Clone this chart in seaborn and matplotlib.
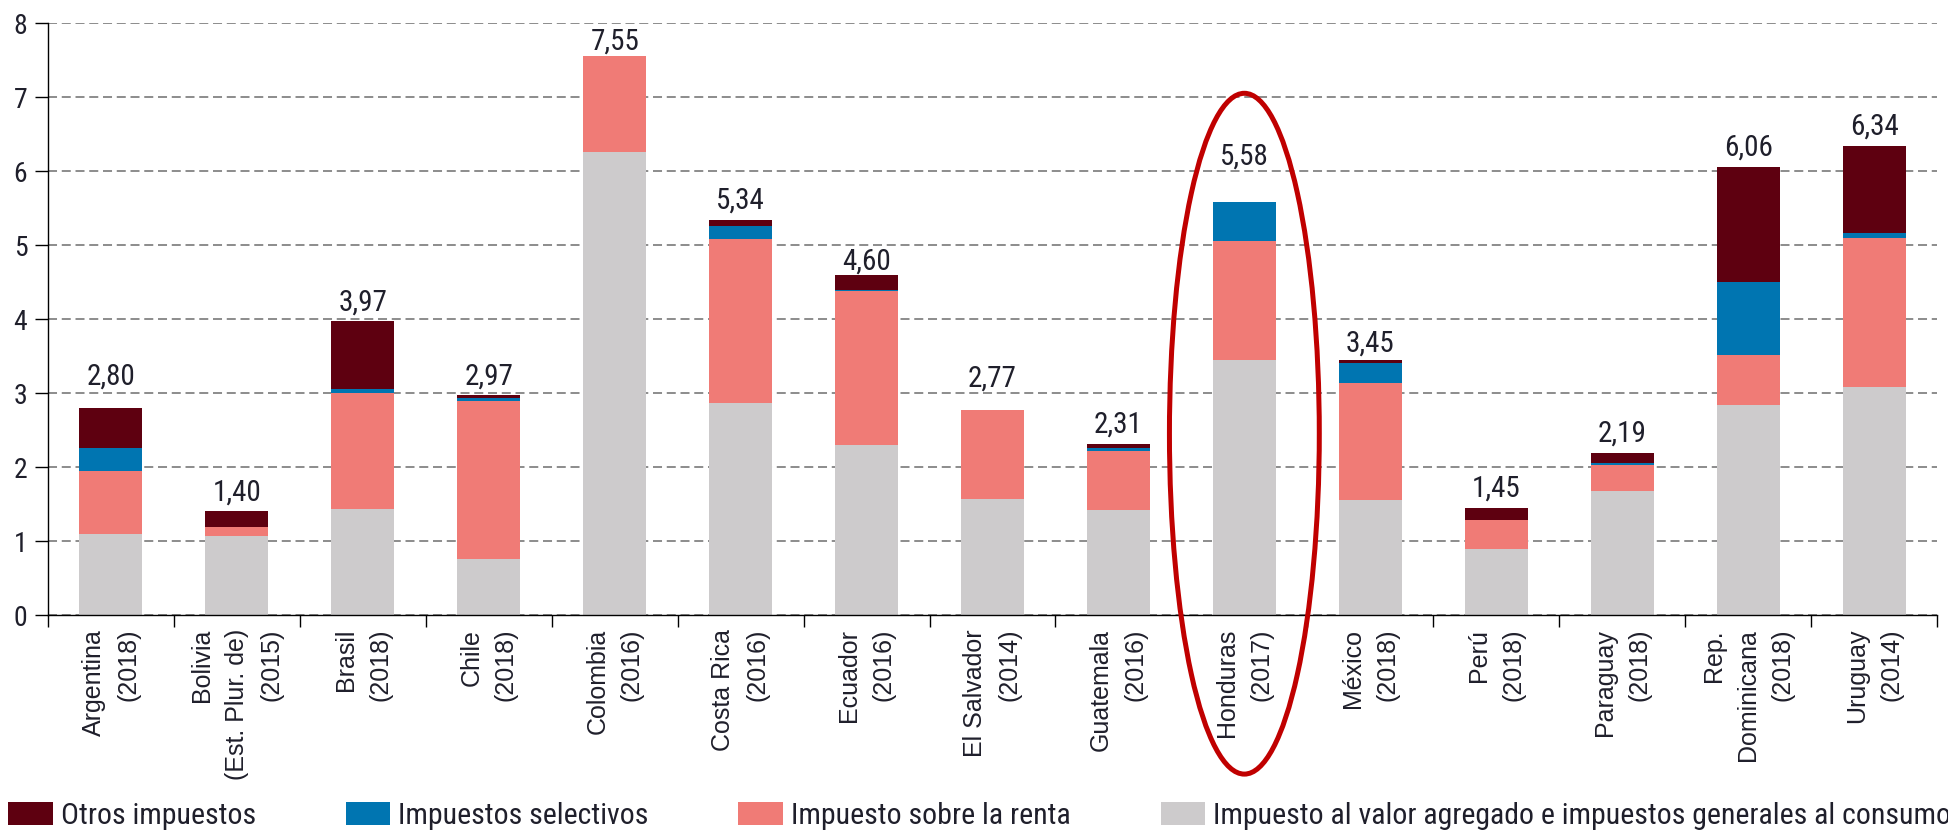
import numpy as np
import pandas as pd
import matplotlib
matplotlib.use("Agg")
import matplotlib.pyplot as plt
from matplotlib import font_manager as fm
from matplotlib.patches import Patch, Ellipse
import seaborn as sns

# ---------------- data ----------------
countries = ["Argentina\n(2018)", "Bolivia\n(Est. Plur. de)\n(2015)", "Brasil\n(2018)",
             "Chile\n(2018)", "Colombia\n(2016)", "Costa Rica\n(2016)", "Ecuador\n(2016)",
             "El Salvador\n(2014)", "Guatemala\n(2016)", "Honduras\n(2017)", "México\n(2018)",
             "Perú\n(2018)", "Paraguay\n(2018)", "Rep.\nDominicana\n(2018)", "Uruguay\n(2014)"]
iva       = [1.10, 1.07, 1.43, 0.76, 6.25, 2.86, 2.30, 1.57, 1.42, 3.44, 1.56, 0.89, 1.67, 2.84, 3.08]
renta     = [0.84, 0.12, 1.57, 2.13, 1.30, 2.22, 2.08, 1.20, 0.80, 1.61, 1.57, 0.40, 0.36, 0.68, 2.01]
selectivos = [0.32, 0.00, 0.05, 0.04, 0.00, 0.18, 0.01, 0.00, 0.04, 0.53, 0.27, 0.00, 0.03, 0.98, 0.07]
otros     = [0.54, 0.21, 0.92, 0.04, 0.00, 0.08, 0.21, 0.00, 0.05, 0.00, 0.05, 0.16, 0.13, 1.56, 1.18]
totals    = [2.80, 1.40, 3.97, 2.97, 7.55, 5.34, 4.60, 2.77, 2.31, 5.58, 3.45, 1.45, 2.19, 6.06, 6.34]
series_names = ["Otros impuestos", "Impuestos selectivos", "Impuesto sobre la renta",
                "Impuesto al valor agregado e impuestos generales al consumo"]
highlight = "Honduras\n(2017)"

# ---------------- style ----------------
C_OTROS, C_SEL, C_RENTA, C_IVA = "#5e0010", "#0075b1", "#f07b76", "#cdcbcc"
TXT = "#1f1f2b"

sns.set_style("white")
names = {f.name for f in fm.fontManager.ttflist}
COND = next((n for n in ["Liberation Sans Narrow", "Roboto Condensed", "DejaVu Sans Condensed",
                         "Open Sans Condensed"] if n in names), "Liberation Sans")
REG = "Liberation Sans" if "Liberation Sans" in names else "DejaVu Sans"
plt.rcParams["font.family"] = [COND, "DejaVu Sans"]

fig = plt.figure(figsize=(19.48, 8.30), dpi=100)
W, H = 1948, 830
ax = fig.add_axes([48 / W, 215 / H, (1937 - 48) / W, (615 - 23) / H])

df = pd.DataFrame({"pais": countries, "iva": iva, "renta": renta,
                   "sel": selectivos, "otros": otros})
df["c1"] = df["iva"]
df["c2"] = df["c1"] + df["renta"]
df["c3"] = df["c2"] + df["sel"]
df["c4"] = df["c3"] + df["otros"]

for col, colr in [("c4", C_OTROS), ("c3", C_SEL), ("c2", C_RENTA), ("c1", C_IVA)]:
    sns.barplot(data=df, x="pais", y=col, color=colr, saturation=1, width=0.5,
                linewidth=0, ax=ax, order=countries, errorbar=None, zorder=2)

ax.set_ylim(0, 8)
ax.set_xlim(-0.5, len(countries) - 0.5)
ax.set_xlabel("")
ax.set_ylabel("")

# grid
ax.set_axisbelow(True)
ax.yaxis.grid(True, color="#6e6e6e", linewidth=1.1, linestyle=(0, (5.9, 3.1)), zorder=0)
ax.xaxis.grid(False)
for s in ["top", "right"]:
    ax.spines[s].set_visible(False)
for s in ["left", "bottom"]:
    ax.spines[s].set_color("black")
    ax.spines[s].set_linewidth(1.0)
    ax.spines[s].set_zorder(3)

# y ticks
ax.set_yticks(range(0, 9))
ax.set_yticklabels([str(v) for v in range(0, 9)])
ax.tick_params(axis="y", length=9.4, width=1.0, color="black", pad=5.5,
               labelsize=20, labelcolor=TXT, left=True)

# x ticks
ax.set_xticks(range(len(countries)))
ax.set_xticklabels(countries, rotation=90, fontsize=18, color=TXT, family=REG,
                   ha="center", va="top", multialignment="right", linespacing=1.55)
ax.tick_params(axis="x", which="major", length=0, pad=10)
ax.set_xticks(np.arange(-0.5, len(countries), 1.0), minor=True)
ax.tick_params(axis="x", which="minor", length=8.6, width=1.0, color="black", bottom=True)

# total labels (extra gap in px above bar top)
label_gap_px = {0: 23, 4: 7, 6: 5, 7: 23, 9: 37, 10: 8}
for i, t in enumerate(totals):
    gap = label_gap_px.get(i, 11)
    ax.annotate(f"{t:.2f}".replace(".", ","), xy=(i, t), xytext=(0, gap * 0.72),
                textcoords="offset points", ha="center", va="baseline",
                fontsize=21, color=TXT, zorder=4)

# highlight ellipse around Honduras
hi = countries.index(highlight)
ell = Ellipse((hi, 2.45), width=1.19, height=9.20, fill=False, edgecolor="#c00000",
              linewidth=3.6, clip_on=False, zorder=5)
ax.add_patch(ell)

# legend
handles = [Patch(facecolor=c, edgecolor="none") for c in [C_OTROS, C_SEL, C_RENTA, C_IVA]]
leg = fig.legend(handles, series_names, ncol=4, loc="lower left",
                 bbox_to_anchor=(8 / W, 0.0), frameon=False, fontsize=21.5,
                 handlelength=1.5, handleheight=0.78, handletextpad=0.27,
                 columnspacing=3.0, borderpad=0.0, borderaxespad=0.0)
for t in leg.get_texts():
    t.set_color(TXT)

fig.savefig("out.png", dpi=100, facecolor="white")
